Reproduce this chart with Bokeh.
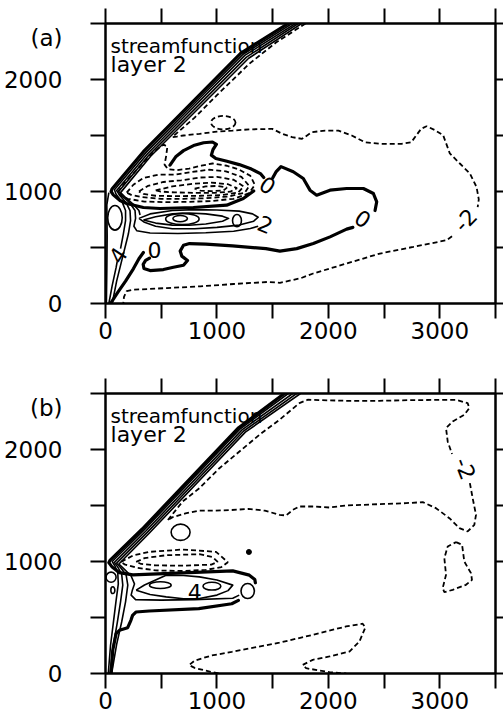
from bokeh.plotting import figure
from bokeh.models import Range1d, LinearAxis, FixedTicker, Label, ColumnDataSource, CustomJSTickFormatter
from bokeh.layouts import column
from bokeh.embed import file_html
from bokeh.resources import INLINE
from bokeh.core.properties import value

# ---------------- axes ----------------
X_TICKS = [0, 1000, 2000, 3000]
X_MINOR = [500, 1500, 2500, 3500]
Y_TICKS = [0, 1000, 2000]
Y_MINOR = [500, 1500, 2500]
X_MAX = 3500
Y_MAX = 2500
TAG_Y = 2370  # vertical position of the panel tag

# ---------------- panel (a) contours (km) ----------------
a_zero_north = [(1640,2500),(1215,2235),(340,1355),(60,1025),(50,1000),(70,970),(130,920),(190,893),(340,857),(489,848),(788,857),(1087,878),(1237,937),(1330,1005)]
a_zero_tongue = [(579,1235),(630,1310),(700,1365),(790,1410),(880,1435),(960,1442),(995,1420),(965,1375),(950,1325),(990,1295),(1090,1270),(1200,1240),(1310,1200),(1390,1160),(1420,1125)]
a_zero_east = [(1500,1120),(1530,1175),(1575,1222),(1685,1176),(1775,1116),(1835,1012),(1895,967),(2015,1012),(2164,1027),(2314,1027),(2404,982),(2434,908),(2419,830)]
a_zero_south = [(2220,680),(2164,664),(2015,595),(1865,535),(1716,490),(1565,467),(1440,490),(1140,515),(900,530),(754,535),(700,520),(670,468),(685,423),(736,384),(700,342),(610,324),(520,303),(400,294),(345,312),(338,350),(360,385),(395,405)]
a_zero_sw = [(45,0),(110,100),(180,200),(250,310),(300,400),(340,455)]

a_band_2a = [(1675,2500),(1235,2225),(360,1345),(80,1015),(95,975),(150,905),(180,830),(180,740),(160,620),(135,490)]
a_band_2b = [(105,375),(95,320),(60,160),(30,0)]
a_band_3 = [(1705,2500),(1250,2215),(375,1335),(100,1008),(125,970),(185,900),(220,830),(225,740),(205,620),(175,500),(140,360),(100,200),(60,0)]
a_band_4 = [(1730,2500),(1265,2200),(390,1325),(118,1000),(150,960),(220,895),(265,830),(270,760),(255,690),(280,650),(400,630),(650,625),(900,632),(1150,645),(1300,670),(1370,690)]
a_band_5 = [(1760,2500),(1285,2190),(405,1315),(135,990),(180,945),(250,885),(300,830),(310,790)]
a_west_1 = [(8,0),(12,300),(15,600),(12,880),(30,990)]
a_ring_4 = [(300,760),(400,800),(600,830),(800,838),(1000,835),(1200,825),(1320,800),(1370,770),(1330,735),(1200,700),(1000,680),(800,668),(600,668),(450,690),(350,725),(300,760)]
a_ring_3 = [(340,745),(450,775),(600,800),(750,808),(900,800),(1050,780),(1105,760),(1050,735),(900,710),(750,698),(600,700),(450,718),(340,745)]

# closed small contours: centre x, centre y, width, height
a_ell_x = [690, 670, 1180, 85]
a_ell_y = [755, 758, 740, 765]
a_ell_w = [300, 130, 80, 130]
a_ell_h = [100, 56, 110, 220]

a_neg_1 = [(110,995),(170,1075),(250,1160),(340,1260),(430,1350),(520,1420),(555,1400),(545,1320),(530,1240),(560,1200),(640,1190),(750,1205),(860,1230),(960,1250),(1090,1230),(1200,1195),(1300,1140),(1340,1060),(1290,985),(1150,935),(950,915),(750,908),(550,905),(350,910),(200,935),(130,965),(110,995)]
a_neg_2 = [(190,990),(250,1060),(340,1120),(470,1150),(620,1150),(780,1175),(930,1195),(1080,1180),(1220,1130),(1290,1050),(1250,990),(1100,955),(900,940),(700,935),(500,935),(330,950),(230,970),(190,990)]
a_neg_3 = [(300,1000),(380,1050),(520,1085),(680,1100),(850,1125),(1000,1130),(1150,1105),(1240,1045),(1190,990),(1040,968),(850,962),(650,958),(450,962),(340,978),(300,1000)]
a_neg_4 = [(450,1010),(600,1045),(780,1068),(950,1080),(1100,1065),(1180,1030),(1120,998),(980,988),(800,988),(620,992),(490,1000),(450,1010)]
a_neg_5 = [(800,1025),(900,1045),(1000,1050),(1090,1035),(1060,1010),(950,1003),(850,1008),(800,1025)]
a_m2_north = [(1795,2500),(1530,2330),(1290,2140),(1000,1860),(800,1660),(650,1530),(600,1485),(640,1490),(700,1500),(843,1515),(1000,1535),(1140,1544),(1300,1555),(1497,1559),(1586,1515),(1675,1485),(1764,1470),(1853,1530),(1972,1544),(2091,1544),(2210,1500),(2328,1440),(2477,1426),(2655,1426),(2744,1440),(2833,1560),(2881,1583),(2952,1550),(3030,1503),(3090,1340),(3180,1250),(3270,1161),(3330,1040),(3350,930),(3340,860)]
a_m2_south = [(3110,600),(3060,565),(2761,505),(2462,446),(2163,357),(1864,268),(1750,225),(1565,185),(1450,192),(1150,174),(850,153),(550,138),(250,123),(190,110),(166,60),(160,0)]
a_neg_ell_x = [1057]
a_neg_ell_y = [1615]
a_neg_ell_w = [220]
a_neg_ell_h = [120]

a_lab_text = ["0", "0", "0", "-2", "2", "4"]
a_lab_x = [1455, 2310, 440, 3230, 1435, 112]
a_lab_y = [1055, 755, 475, 745, 705, 430]
a_lab_ang = [-0.6, -0.6, 0.0, 0.8, -0.4, 1.0]

# ---------------- panel (b) contours (km) ----------------
b_band_1 = [(1605,2500),(1195,2195),(330,1290),(40,1010),(30,990),(60,950),(125,900),(245,880),(693,899),(1142,916),(1291,878),(1340,840),(1345,810)]
b_band_2 = [(1640,2500),(1210,2185),(345,1280),(60,1000),(85,960),(110,900),(115,800),(95,650),(70,450),(45,250),(25,0)]
b_band_3 = [(1680,2500),(1225,2175),(360,1270),(80,992),(110,950),(145,890),(155,790),(135,640),(105,450),(70,250),(40,0)]
b_band_4 = [(1715,2500),(1240,2165),(375,1260),(100,985),(140,940),(185,880),(200,790),(180,640),(145,460),(100,260),(55,0)]
b_band_5 = [(1750,2500),(1255,2155),(390,1250),(120,978),(170,930),(230,870),(260,800),(240,740),(230,700),(270,660),(500,655),(800,660),(1142,672),(1200,700)]
b_south = [(50,0),(65,208),(95,356),(125,386),(199,409),(228,475),(243,519),(273,549),(392,558),(837,579),(1133,623),(1193,653)]
b_lens = [(275,744),(350,790),(544,878),(700,875),(843,863),(1000,835),(1142,789),(1100,740),(1000,700),(843,669),(700,668),(544,684),(400,705),(275,744)]
b_ell_x = [492, 955, 674, 1276, 50, 66]
b_ell_y = [789, 780, 1261, 736, 860, 744]
b_ell_w = [194, 160, 170, 120, 90, 36]
b_ell_h = [60, 70, 145, 134, 90, 60]
b_dot_x = [1287]
b_dot_y = [1085]

b_m2_loop_a = [(560,1370),(693,1536),(843,1655),(1022,1833),(1202,1982),(1381,2131),(1561,2265),(1740,2414),(1815,2444),(2159,2435),(2458,2435),(2757,2441),(3146,2444),(3250,2414),(3265,2369),(3220,2310),(3116,2250),(3056,2191),(3071,2072),(3110,1960)]
b_m2_loop_b = [(3270,1700),(3295,1566),(3325,1417),(3310,1327),(3250,1268),(3176,1298),(3086,1387),(2966,1476),(2847,1530),(2697,1521),(2458,1512),(2159,1500),(2010,1482),(1860,1491),(1740,1491),(1681,1461),(1621,1411),(1561,1417),(1430,1454),(1282,1469),(1133,1460),(985,1454),(837,1454),(718,1430),(599,1394),(560,1370)]
b_m2_right = [(3146,1173),(3200,1149),(3220,1000),(3280,896),(3289,836),(3235,792),(3116,747),(3041,726),(3026,762),(3056,881),(3041,1030),(3071,1134),(3146,1173)]
b_m2_low = [(1015,0),(900,25),(800,50),(750,75),(800,115),(950,160),(1133,193),(1400,245),(1561,275),(1860,345),(2159,420),(2308,445),(2332,411),(2279,286),(2189,196),(2010,152),(1860,122),(1770,77),(1800,47),(2010,12),(2160,0)]
b_neg_outer = [(140,997),(250,1055),(395,1086),(694,1107),(992,1086),(1098,994),(1040,950),(900,925),(694,915),(450,920),(280,945),(170,975),(140,997)]
b_neg_inner = [(275,997),(350,1030),(544,1056),(843,1065),(960,1040),(1007,997),(950,972),(694,963),(450,965),(320,978),(275,997)]

b_lab_text = ["4", "-2"]
b_lab_x = [800, 3230]
b_lab_y = [730, 1830]
b_lab_ang = [0.0, -1.2]


def xs_ys(lines):
    return [[p[0] for p in ln] for ln in lines], [[p[1] for p in ln] for ln in lines]


def style_axes(p, tag):
    for loc in ("below", "above", "left", "right"):
        if loc in ("below", "above"):
            tk = FixedTicker(ticks=X_TICKS, minor_ticks=X_MINOR)
        else:
            # tag "(a)"/"(b)" is carried as an extra left-axis label; all tick marks drawn as minor ticks
            tk = FixedTicker(ticks=Y_TICKS + [TAG_Y], minor_ticks=Y_TICKS + Y_MINOR)
        ax = LinearAxis(ticker=tk)
        ax.axis_line_width = 2
        ax.axis_line_color = "black"
        ax.major_tick_line_width = 2
        ax.minor_tick_line_width = 2
        ax.major_tick_line_color = "black"
        ax.minor_tick_line_color = "black"
        ax.major_tick_in = 0
        ax.minor_tick_in = 0
        out = 8 if loc == "right" else 15
        ax.major_tick_out = out
        ax.minor_tick_out = out
        ax.major_label_text_font = "DejaVu Sans"
        ax.major_label_text_font_size = "23px"
        ax.major_label_text_color = "black"
        if loc in ("above", "right"):
            ax.formatter = CustomJSTickFormatter(code="return ''")
            ax.major_label_text_font_size = "0px"
            ax.major_label_standoff = 0
            if loc == "right":
                ax.major_tick_out = 0
        elif loc == "left":
            ax.major_tick_out = 0
            ax.major_label_standoff = 28
            ax.major_label_overrides = {TAG_Y: tag}
        else:
            ax.major_label_standoff = 3
        p.add_layout(ax, loc)


def make_panel(tag, height, top, bottom, thick, thin, dashed, ell, neg_ell, labs, dots=None):
    p = figure(width=503, height=height, x_range=Range1d(0, X_MAX), y_range=Range1d(0, Y_MAX),
               x_axis_type=None, y_axis_type=None, output_backend="svg", toolbar_location=None,
               min_border_left=105, min_border_right=8, min_border_top=top, min_border_bottom=bottom)
    p.grid.visible = False
    p.outline_line_color = "black"
    p.outline_line_width = 2
    p.background_fill_color = "white"
    p.border_fill_color = "white"
    style_axes(p, tag)

    xs, ys = xs_ys(thin)
    p.multi_line(xs, ys, line_color="black", line_width=1.6, line_join="round")
    xs, ys = xs_ys(thick)
    p.multi_line(xs, ys, line_color="black", line_width=3.2, line_join="round", line_cap="round")
    xs, ys = xs_ys(dashed)
    p.multi_line(xs, ys, line_color="black", line_width=1.8, line_dash="5 3")
    ex, ey, ew, eh = ell
    p.ellipse(x=ex, y=ey, width=ew, height=eh, fill_color=None, line_color="black", line_width=1.6)
    if neg_ell is not None:
        nx, ny, nw, nh = neg_ell
        p.ellipse(x=nx, y=ny, width=nw, height=nh, fill_color=None, line_color="black",
                  line_width=1.8, line_dash="5 3")
    if dots is not None:
        p.scatter(x=dots[0], y=dots[1], size=5, color="black")
    lt, lx, ly, la = labs
    src = ColumnDataSource(dict(x=lx, y=ly, t=lt, a=la))
    p.text(x="x", y="y", text="t", angle="a", source=src, text_font=value("DejaVu Sans"),
           text_font_size="22px", text_align="center", text_baseline="middle", text_color="black")

    p.add_layout(Label(x=45, y=2295, text="streamfunction", text_align="left", text_baseline="alphabetic",
                       text_font="DejaVu Sans", text_font_size="20px", text_color="black"))
    p.add_layout(Label(x=45, y=2130, text="layer 2", text_align="left", text_baseline="alphabetic",
                       text_font="DejaVu Sans", text_font_size="22px", text_color="black"))
    return p


pa = make_panel("(a)", 360, 23, 57,
                thick=[a_zero_north, a_zero_tongue, a_zero_east, a_zero_south, a_zero_sw],
                thin=[a_band_2a, a_band_2b, a_band_3, a_band_4, a_band_5, a_west_1, a_ring_4, a_ring_3],
                dashed=[a_neg_1, a_neg_2, a_neg_3, a_neg_4, a_neg_5, a_m2_north, a_m2_south],
                ell=(a_ell_x, a_ell_y, a_ell_w, a_ell_h),
                neg_ell=(a_neg_ell_x, a_neg_ell_y, a_neg_ell_w, a_neg_ell_h),
                labs=(a_lab_text, a_lab_x, a_lab_y, a_lab_ang))

pb = make_panel("(b)", 364, 33, 51,
                thick=[b_band_1, b_south],
                thin=[b_band_2, b_band_3, b_band_4, b_band_5, b_lens],
                dashed=[b_m2_loop_a, b_m2_loop_b, b_m2_right, b_m2_low, b_neg_outer, b_neg_inner],
                ell=(b_ell_x, b_ell_y, b_ell_w, b_ell_h),
                neg_ell=None,
                labs=(b_lab_text, b_lab_x, b_lab_y, b_lab_ang),
                dots=(b_dot_x, b_dot_y))

layout = column(pa, pb, spacing=0)
open("out.html", "w").write(file_html(layout, INLINE))
